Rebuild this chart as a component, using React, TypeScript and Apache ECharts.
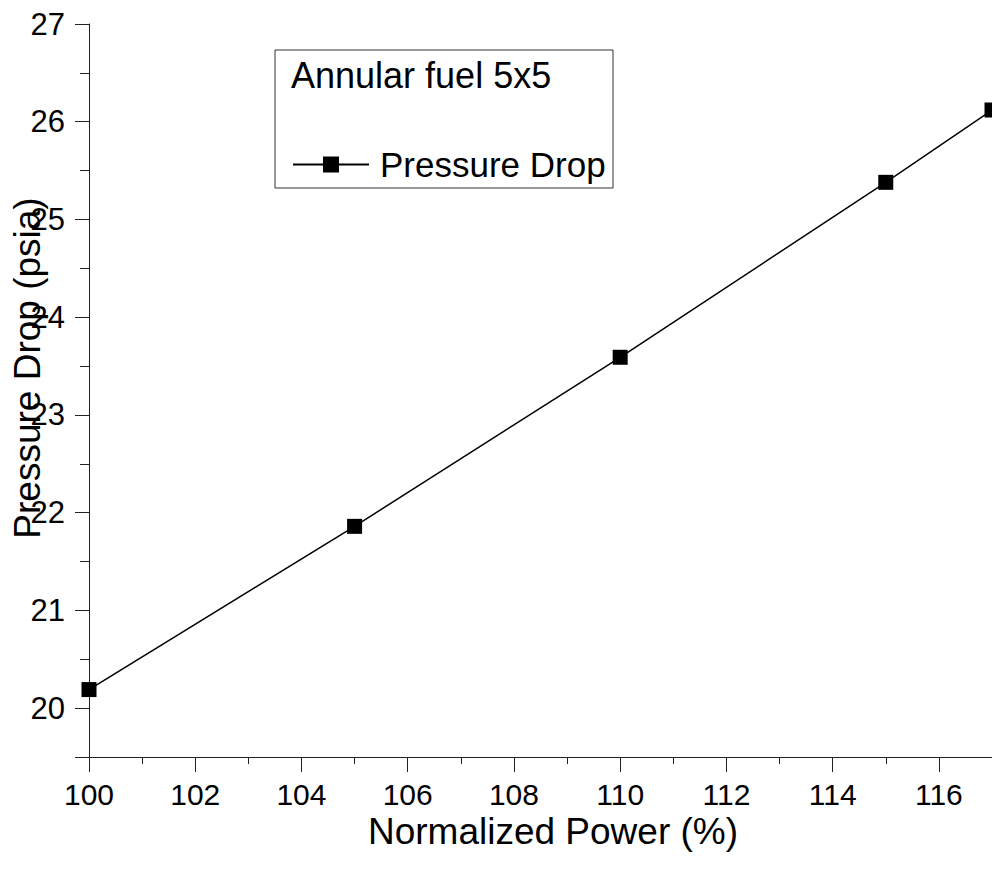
import React, { useEffect, useRef } from "react";
import * as echarts from "echarts";

const powerPct = [100, 105, 110, 115, 117];
const pressureDrop = [20.19, 21.86, 23.59, 25.38, 26.12];
const seriesName = "Pressure Drop";
const legendTitle = "Annular fuel 5x5";
const xTitle = "Normalized Power (%)";
const yTitle = "Pressure Drop (psia)";

const FONT = "'Liberation Sans', Arial, Helvetica, sans-serif";

export default function App() {
  const ref = useRef<HTMLDivElement>(null);
  useEffect(() => {
    document.body.style.margin = "0";
    const chart = echarts.init(ref.current!, null, { renderer: "svg" });
    chart.setOption({
      animation: false,
      backgroundColor: "#fff",
      grid: { left: 89, top: 24, width: 905, height: 733, containLabel: false },
      xAxis: {
        type: "value",
        min: 100,
        max: 117,
        interval: 2,
        axisLine: { show: true, lineStyle: { color: "#222", width: 1 } },
        axisTick: { show: true, length: 15, lineStyle: { color: "#222" } },
        minorTick: { show: true, splitNumber: 2, length: 7, lineStyle: { color: "#222" } },
        splitLine: { show: false },
        axisLabel: {
          showMaxLabel: false,
          margin: 22,
          fontSize: 30,
          color: "#000",
          fontFamily: FONT,
        },
      },
      yAxis: {
        type: "value",
        min: 19.5,
        max: 27,
        splitNumber: 8,
        axisLine: { show: true, lineStyle: { color: "#222", width: 1 } },
        axisTick: { show: true, length: 14, lineStyle: { color: "#222" } },
        minorTick: { show: true, splitNumber: 2, length: 9, lineStyle: { color: "#222" } },
        splitLine: { show: false },
        axisLabel: {
          showMinLabel: false,
          margin: 24,
          fontSize: 31,
          color: "#000",
          fontFamily: FONT,
        },
      },
      legend: {
        show: true,
        left: 292,
        top: 147,
        itemWidth: 76,
        itemHeight: 20,
        itemGap: 10,
        padding: 0,
        textStyle: { fontSize: 35, color: "#000", fontFamily: FONT, padding: [0, 0, 0, 6] },
        data: [seriesName],
      },
      series: [
        {
          name: seriesName,
          type: "line",
          data: powerPct.map((x, i) => [x, pressureDrop[i]]),
          symbol: "rect",
          symbolSize: 15,
          clip: false,
          lineStyle: { color: "#000", width: 1.5 },
          itemStyle: { color: "#000" },
        },
      ],
      graphic: [
        {
          type: "rect",
          shape: { x: 275, y: 50, width: 338, height: 138 },
          style: { fill: "none", stroke: "#333", lineWidth: 1 },
          z: 10,
        },
        {
          type: "text",
          x: 291,
          y: 75,
          style: {
            text: legendTitle,
            fontSize: 36,
            fontFamily: FONT,
            fill: "#000",
            verticalAlign: "middle",
            align: "left",
          },
          z: 10,
        },
        {
          type: "text",
          x: 553,
          y: 831,
          style: {
            text: xTitle,
            fontSize: 37,
            fontFamily: FONT,
            fill: "#000",
            align: "center",
            verticalAlign: "middle",
          },
        },
        {
          type: "text",
          x: 27,
          y: 368,
          rotation: Math.PI / 2,
          style: {
            text: yTitle,
            fontSize: 37,
            fontFamily: FONT,
            fill: "#000",
            align: "center",
            verticalAlign: "middle",
          },
          z: 10,
        },
      ],
    });
    return () => chart.dispose();
  }, []);
  return <div ref={ref} style={{ width: 992, height: 873, position: "absolute", left: 0, top: 0 }} />;
}
